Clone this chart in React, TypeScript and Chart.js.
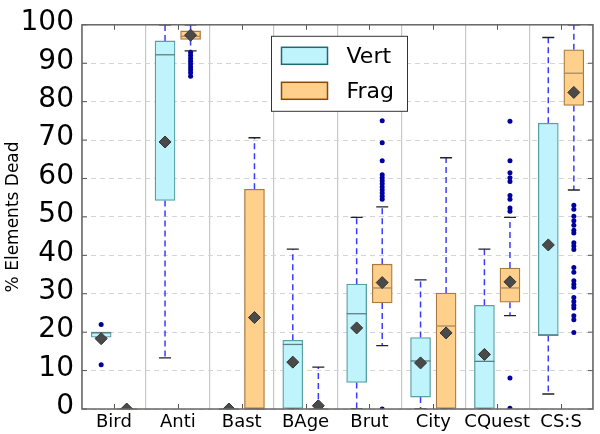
import React, { useEffect, useRef } from "react";
import { Chart, registerables } from "chart.js";

Chart.register(...registerables);

const categories = ["Bird", "Anti", "Bast", "BAge", "Brut", "City", "CQuest", "CS:S"];
const seriesNames = ["Vert", "Frag"];
const yTickValues = [0, 10, 20, 30, 40, 50, 60, 70, 80, 90, 100];

// Vert series
const vertQ1 = [18.7, 54.3, 0, 0, 6.9, 3.1, 0, 19.1];
const vertQ3 = [19.9, 95.8, 0, 17.9, 32.5, 18.6, 27.0, 74.4];
const vertMedian = [19.9, 92.2, 0, 16.8, 24.8, 12.5, 12.4, 19.3];
const vertWhiskerLow = [18.7, 13.3, 0, 0, 0, 0, 0, 3.9];
const vertWhiskerHigh = [19.9, 100, 0, 41.6, 49.9, 33.6, 41.6, 96.7];
const vertMean = [18.3, 69.5, 0, 12.2, 21.1, 12.0, 14.2, 42.7];
const vertOutliers: number[][] = [[22.0, 11.5], [], [], [], [], [], [], []];

// Frag series
const fragQ1 = [0, 96.2, 0, 0, 27.6, 0, 27.8, 79.0];
const fragQ3 = [0, 98.4, 57.2, 0, 37.7, 30.2, 36.7, 93.5];
const fragMedian = [0, 97.0, 0, 0, 31.5, 21.6, 31.5, 87.4];
const fragWhiskerLow = [0, 93.2, 0, 0, 16.5, 0, 24.3, 57.0];
const fragWhiskerHigh = [0, 100, 70.6, 10.9, 52.6, 65.4, 49.9, 100];
const fragMean = [0, 97.3, 23.8, 0.85, 32.9, 19.8, 33.1, 82.4];
const fragOutliers: number[][] = [
  [],
  [92.8, 92.0, 91.2, 90.5, 89.8, 89.0, 88.3, 87.5, 86.6],
  [],
  [],
  [75.0, 69.3, 64.6, 61.0, 60.2, 59.4, 58.6, 57.8, 57.0, 56.2, 55.4, 54.6, 0],
  [],
  [74.9, 64.6, 61.5, 60.2, 59.2, 55.6, 54.6, 52.3, 51.5, 8.1, 0.2],
  [53.0, 52.0, 50.2, 49.0, 47.8, 46.5, 45.8, 43.3, 42.4, 41.5, 36.8, 35.6, 33.4, 32.5, 31.7, 29.0, 28.0, 27.0, 26.3, 24.3, 23.2, 19.9],
];

const VERT_FILL = "#bff4fc";
const VERT_EDGE = "#5a9ea6";
const VERT_MED = "#5d7f83";
const VERT_LEG_EDGE = "#1d6a74";
const FRAG_FILL = "#ffd08c";
const FRAG_EDGE = "#a9793f";
const FRAG_MED = "#a88a66";
const FRAG_LEG_EDGE = "#8a4800";
const FONT = "'DejaVu Sans', sans-serif";
const GROUP_OFFSET = 0.2;

const stats = [
  { q1: vertQ1, q3: vertQ3, med: vertMedian, lo: vertWhiskerLow, hi: vertWhiskerHigh, medColor: VERT_MED },
  { q1: fragQ1, q3: fragQ3, med: fragMedian, lo: fragWhiskerLow, hi: fragWhiskerHigh, medColor: FRAG_MED },
];

const boxExtras = {
  id: "boxExtras",
  beforeDatasetsDraw(chart: any) {
    const { ctx, chartArea } = chart;
    const y = chart.scales.y;
    ctx.save();
    ctx.beginPath();
    ctx.rect(chartArea.left, chartArea.top, chartArea.right - chartArea.left, chartArea.bottom - chartArea.top);
    ctx.clip();
    stats.forEach((s, di) => {
      const meta = chart.getDatasetMeta(di);
      meta.data.forEach((bar: any, i: number) => {
        const x = bar.x;
        const yq1 = y.getPixelForValue(s.q1[i]);
        const yq3 = y.getPixelForValue(s.q3[i]);
        const ylo = y.getPixelForValue(s.lo[i]);
        const yhi = y.getPixelForValue(s.hi[i]);
        ctx.strokeStyle = "#3a3aff";
        ctx.lineWidth = 1.5;
        ctx.setLineDash([6, 4]);
        ctx.beginPath();
        ctx.moveTo(x, yq3);
        ctx.lineTo(x, yhi);
        ctx.moveTo(x, yq1);
        ctx.lineTo(x, ylo);
        ctx.stroke();
        ctx.setLineDash([]);
        ctx.strokeStyle = "#222";
        ctx.lineWidth = 1.3;
        ctx.beginPath();
        ctx.moveTo(x - 6, yhi);
        ctx.lineTo(x + 6, yhi);
        ctx.moveTo(x - 6, ylo);
        ctx.lineTo(x + 6, ylo);
        ctx.stroke();
      });
    });
    ctx.restore();
  },
  afterDatasetDraw(chart: any, args: any) {
    if (args.index > 1) return;
    const s = stats[args.index];
    const { ctx } = chart;
    const y = chart.scales.y;
    ctx.save();
    args.meta.data.forEach((bar: any, i: number) => {
      const w = bar.width;
      const ym = y.getPixelForValue(s.med[i]);
      ctx.strokeStyle = s.medColor;
      ctx.lineWidth = 1.3;
      ctx.beginPath();
      ctx.moveTo(bar.x - w / 2, ym);
      ctx.lineTo(bar.x + w / 2, ym);
      ctx.stroke();
    });
    ctx.restore();
  },
  afterDraw(chart: any) {
    const { ctx, chartArea } = chart;
    const { left, right, top, bottom } = chartArea;
    const x = chart.scales.xc;
    const y = chart.scales.y;
    ctx.save();
    // tick marks (inward)
    ctx.strokeStyle = "#555";
    ctx.lineWidth = 1;
    ctx.beginPath();
    categories.forEach((_, i) => {
      const px = Math.round(x.getPixelForValue(i)) + 0.5;
      ctx.moveTo(px, bottom);
      ctx.lineTo(px, bottom - 5);
      ctx.moveTo(px, top);
      ctx.lineTo(px, top + 5);
    });
    yTickValues.forEach((v) => {
      const py = y.getPixelForValue(v);
      ctx.moveTo(left, py);
      ctx.lineTo(left + 5, py);
      ctx.moveTo(right, py);
      ctx.lineTo(right - 5, py);
    });
    ctx.stroke();
    // frame
    ctx.strokeStyle = "#666";
    ctx.lineWidth = 1.5;
    ctx.strokeRect(left, top, right - left, bottom - top);

    // legend
    const lx = left + 189.5;
    const ly = top + 11.5;
    ctx.fillStyle = "#fff";
    ctx.fillRect(lx, ly, 136, 75);
    ctx.strokeStyle = "#333";
    ctx.lineWidth = 1;
    ctx.strokeRect(lx, ly, 136, 75);
    const entries = [
      { fill: VERT_FILL, edge: VERT_LEG_EDGE, label: seriesNames[0] },
      { fill: FRAG_FILL, edge: FRAG_LEG_EDGE, label: seriesNames[1] },
    ];
    entries.forEach((e, k) => {
      const sy = ly + 11 + k * 35;
      ctx.fillStyle = e.fill;
      ctx.fillRect(lx + 10, sy, 46, 17);
      ctx.strokeStyle = e.edge;
      ctx.lineWidth = 1.5;
      ctx.strokeRect(lx + 10, sy, 46, 17);
      ctx.fillStyle = "#000";
      ctx.font = `22px ${FONT}`;
      ctx.textBaseline = "alphabetic";
      ctx.textAlign = "left";
      ctx.fillText(e.label, lx + 75, sy + 16);
    });
    ctx.restore();
  },
};

export default function App() {
  const ref = useRef<HTMLCanvasElement | null>(null);
  useEffect(() => {
    if (!ref.current) return;
    const meanPts = (arr: number[], off: number) => arr.map((v, i) => ({ x: i + off, y: v }));
    const outPts = (arr: number[][], off: number) =>
      arr.flatMap((list, i) => list.map((v) => ({ x: i + off, y: v })));
    const boxPts = (q1: number[], q3: number[], off: number) => q1.map((v, i) => ({ x: i + off, y: [v, q3[i]] }));
    const chart = new Chart(ref.current, {
      type: "bar",
      data: {
        labels: categories,
        datasets: [
          {
            type: "bar",
            label: seriesNames[0],
            data: boxPts(vertQ1, vertQ3, -GROUP_OFFSET),
            xAxisID: "x",
            backgroundColor: VERT_FILL,
            borderColor: VERT_EDGE,
            borderWidth: 1.3,
            borderSkipped: false,
            grouped: false,
            barThickness: 20,
            order: 2,
          } as any,
          {
            type: "bar",
            label: seriesNames[1],
            data: boxPts(fragQ1, fragQ3, GROUP_OFFSET),
            xAxisID: "x",
            backgroundColor: FRAG_FILL,
            borderColor: FRAG_EDGE,
            borderWidth: 1.3,
            borderSkipped: false,
            grouped: false,
            barThickness: 20,
            order: 2,
          } as any,
          {
            type: "scatter",
            label: "Vert mean",
            data: meanPts(vertMean, -GROUP_OFFSET),
            xAxisID: "x",
            pointStyle: "rectRot",
            pointRadius: 6,
            backgroundColor: "#4a4a4a",
            borderColor: "#333",
            borderWidth: 1,
            clip: 0,
            order: 1,
          } as any,
          {
            type: "scatter",
            label: "Frag mean",
            data: meanPts(fragMean, GROUP_OFFSET),
            xAxisID: "x",
            pointStyle: "rectRot",
            pointRadius: 6,
            backgroundColor: "#4a4a4a",
            borderColor: "#333",
            borderWidth: 1,
            clip: 0,
            order: 1,
          } as any,
          {
            type: "scatter",
            label: "Vert outliers",
            data: outPts(vertOutliers, -GROUP_OFFSET),
            xAxisID: "x",
            pointStyle: "circle",
            pointRadius: 2.5,
            backgroundColor: "#0000a0",
            borderWidth: 0,
            clip: 0,
            order: 0,
          } as any,
          {
            type: "scatter",
            label: "Frag outliers",
            data: outPts(fragOutliers, GROUP_OFFSET),
            xAxisID: "x",
            pointStyle: "circle",
            pointRadius: 2.5,
            backgroundColor: "#0000a0",
            borderWidth: 0,
            clip: 0,
            order: 0,
          } as any,
        ],
      },
      options: {
        responsive: false,
        animation: false,
        devicePixelRatio: 1,
        layout: { padding: { top: 22, right: 3, left: 0, bottom: 0 } },
        plugins: { legend: { display: false }, tooltip: { enabled: false } },
        scales: {
          x: {
            type: "linear",
            min: -0.5,
            max: 7.5,
            offset: false,
            display: false,
            position: "bottom",
          },
          xc: {
            type: "category",
            position: "bottom",
            offset: true,
            grid: { offset: true, color: "#c8c8c8", lineWidth: 1.2, drawTicks: false },
            border: { display: false },
            ticks: {
              color: "#000",
              font: { family: FONT, size: 18 },
              padding: 3,
              maxRotation: 0,
              minRotation: 0,
              autoSkip: false,
            },
            afterFit: (s: any) => {
              s.height = 25;
            },
          },
          y: {
            type: "linear",
            min: 0,
            max: 100,
            grid: { color: "#d4d4d4", lineWidth: 1, drawTicks: false },
            border: { display: false, dash: [5, 4] },
            ticks: {
              stepSize: 10,
              color: "#000",
              font: { family: FONT, size: 28 },
              padding: 8,
              labelOffset: -2,
            },
            title: {
              display: true,
              text: "% Elements Dead",
              color: "#000",
              font: { family: FONT, size: 17 },
              padding: { top: 3, bottom: 0 },
            },
            afterFit: (s: any) => {
              s.width = 82;
            },
          },
        },
      } as any,
      plugins: [boxExtras],
    });
    return () => chart.destroy();
  }, []);
  return (
    <div style={{ position: "absolute", left: 0, top: 0, width: 600, height: 434, background: "#fff" }}>
      <canvas ref={ref} width={600} height={434} />
    </div>
  );
}
